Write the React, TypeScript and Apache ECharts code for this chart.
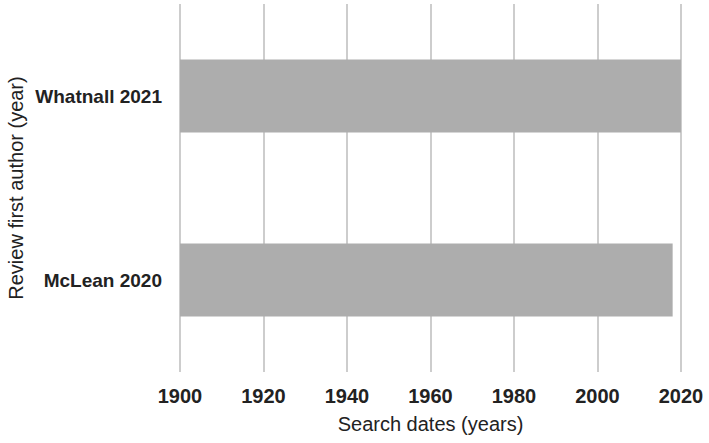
import React, { useEffect, useRef } from "react";
import * as echarts from "echarts";

const categories = ["McLean 2020", "Whatnall 2021"];
const searchEndYears = [2018, 2020];
const xTicks = [1900, 1920, 1940, 1960, 1980, 2000, 2020];

export default function App() {
  const ref = useRef<HTMLDivElement>(null);
  useEffect(() => {
    const chart = echarts.init(ref.current!, null, { renderer: "svg" });
    chart.setOption({
      animation: false,
      backgroundColor: "#ffffff",
      grid: { left: 180, right: 28, top: 4, bottom: 71, containLabel: false, outerBoundsMode: "none" },
      xAxis: {
        type: "value",
        min: xTicks[0],
        max: xTicks[xTicks.length - 1],
        interval: 20,
        name: "Search dates (years)",
        nameLocation: "middle",
        nameGap: 42,
        nameTextStyle: { fontFamily: "Liberation Sans, Arial", fontSize: 20, color: "#222" },
        axisLine: { show: false },
        axisTick: { show: false },
        axisLabel: {
          margin: 14,
          fontFamily: "Liberation Sans, Arial",
          fontWeight: "bold",
          fontSize: 20,
          color: "#222",
          formatter: (v: number) => String(v),
        },
        splitLine: { show: true, lineStyle: { color: "#bdbdbd", width: 1.5 } },
      },
      yAxis: {
        type: "category",
        data: categories,
        name: "Review first author (year)",
        nameLocation: "middle",
        nameGap: 154,
        nameMoveOverlap: false,
        nameRotate: 90,
        nameTextStyle: { fontFamily: "Liberation Sans, Arial", fontSize: 20, color: "#222" },
        axisLine: { show: false },
        axisTick: { show: false },
        axisLabel: { margin: 18, fontFamily: "Liberation Sans, Arial", fontWeight: "bold", fontSize: 19, color: "#222" },
        splitLine: { show: false },
      },
      series: [
        {
          type: "bar",
          data: searchEndYears,
          barWidth: 73,
          clip: true,
          itemStyle: { color: "#adadad" },
        },
      ],
    });
    return () => chart.dispose();
  }, []);
  return (
    <div
      ref={ref}
      style={{ position: "absolute", left: 0, top: 0, width: 709, height: 443 }}
    />
  );
}
